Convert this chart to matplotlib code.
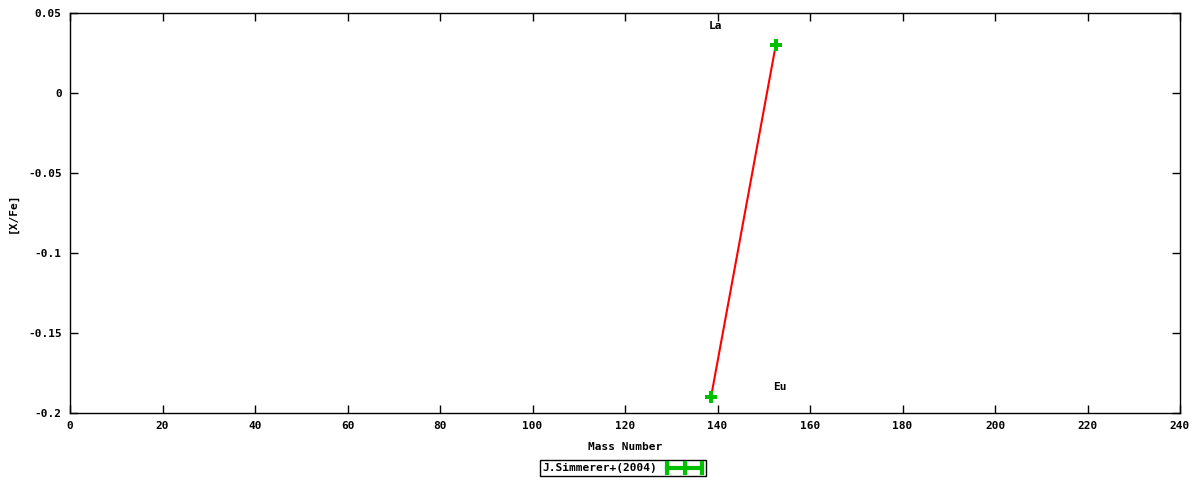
import matplotlib
matplotlib.use("Agg")
import matplotlib.pyplot as plt
from matplotlib.lines import Line2D

mass = [138.6, 152.6]
xfe = [-0.19, 0.03]
labels = ["La", "Eu"]
label_x = [139.5, 153.5]
label_y = [0.042, -0.184]
legend_label = "J.Simmerer+(2004)"
xticks = list(range(0, 241, 20))
yticks = [-0.2, -0.15, -0.1, -0.05, 0, 0.05]
ytick_labels = ["-0.2", "-0.15", "-0.1", "-0.05", "0", "0.05"]

plt.rcParams['font.family'] = ['DejaVu Sans Mono']
plt.rcParams['font.weight'] = 'bold'
plt.rcParams['font.size'] = 8

fig = plt.figure(figsize=(12, 4.8), dpi=100)
ax = fig.add_axes([70/1200, 67/480, 1110/1200, 400/480])
ax.plot(mass, xfe, color='#ff0000', lw=1.5, zorder=2)
ax.plot(mass, xfe, linestyle='none', marker='P', markersize=8.5, color='#00c000',
        markeredgewidth=0, zorder=3)
for t, lx, ly in zip(labels, label_x, label_y):
    ax.text(lx, ly, t, ha='center', va='center', fontsize=8, fontweight='bold')

ax.set_xlim(0, 240)
ax.set_ylim(-0.2, 0.05)
ax.set_xticks(xticks)
ax.set_xticklabels([str(v) for v in xticks])
ax.set_yticks(yticks)
ax.set_yticklabels(ytick_labels)
ax.tick_params(direction='in', top=True, right=True, length=6, width=1, pad=6)
for s in ax.spines.values():
    s.set_linewidth(1)
ax.set_xlabel("Mass Number", fontsize=8, fontweight='bold')
ax.xaxis.set_label_coords(0.5, -(442 - 413) / 400)
ax.set_ylabel("[X/Fe]", fontsize=8, fontweight='bold', va='center')
ax.yaxis.set_label_coords((13 - 70) / 1110, 0.5)

# legend box
y0 = 1 - 468/480
fig.text(542/1200, y0, legend_label, ha='left', va='center', fontsize=8,
         fontweight='bold')
fig.add_artist(Line2D([667/1200, 702/1200], [y0, y0], color='#00c000', lw=3,
                      transform=fig.transFigure))
for xp in [667, 684.5, 702]:
    fig.add_artist(Line2D([xp/1200, xp/1200], [y0 - 5/480, y0 + 5/480], color='#00c000',
                          lw=3, transform=fig.transFigure))
fig.add_artist(plt.Rectangle((540/1200, 1 - 476/480), 166/1200, 16/480, fill=False,
                             edgecolor='black', lw=1, transform=fig.transFigure))

fig.savefig("out.png", dpi=100)
